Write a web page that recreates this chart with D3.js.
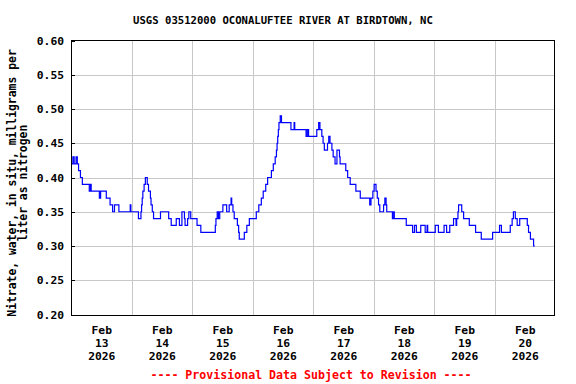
<!DOCTYPE html>
<html>
<head>
<meta charset="utf-8">
<script src="https://cdn.jsdelivr.net/npm/d3@7"></script>
<style>
  html, body { margin: 0; padding: 0; background: #fff; }
  svg { display: block; }
  text { font-family: "DejaVu Sans Mono", "Liberation Mono", monospace; font-weight: bold; }
</style>
</head>
<body>
<svg id="chart" width="576" height="384"></svg>
<script>
// ---- Data (hours since 2026-02-13 00:00, change points of the 15-min record) ----
const hours = [0, 0.75, 1.25, 2, 2.5, 3, 3.75, 4.5, 7.25, 7.75, 8, 11.25, 11.75, 14, 15.5, 16.5, 17.25, 19,
  23.5, 23.75, 26.75, 27.75, 28, 28.25, 28.5, 29, 29.5, 30.25, 30.75, 31.5, 31.75, 32.25, 32.75, 35.5, 38.75,
  39.75, 41.75, 43, 44, 45, 45.25, 46.25, 46.75, 47.5, 50, 51.5, 57.25, 57.5, 58, 58.5, 59, 60.25, 61.75,
  62.75, 63.5, 63.75, 64.25, 64.75, 66, 66.5, 66.75, 68.75, 69.75, 70.75, 73.5, 74.5, 75.5, 76.25, 77.25, 78,
  79.5, 80.25, 81, 81.5, 81.75, 82, 82.25, 82.5, 83, 83.5, 87.25, 88.5, 88.75, 93.25, 93.75, 94.25, 97.5,
  98.25, 98.75, 99.5, 100, 100.5, 101.75, 102.25, 102.75, 103.5, 104, 104.75, 105.5, 106.5, 106.75, 109,
  109.75, 110.75, 113, 114.75, 118.5, 119, 119.75, 120.25, 121, 121.5, 122, 122.5, 124, 124.5, 125, 125.25,
  127.5, 128, 128.25, 133, 135.5, 136.25, 137, 138.75, 140.5, 141.25, 141.5, 144.5, 145.75, 148, 149, 150.25,
  151.75, 152.75, 153, 153.5, 153.75, 155, 155.75, 158, 160.5, 162.75, 167.25, 170, 170.75, 174.25, 175,
  175.5, 176.25, 177, 178, 181, 181.5, 182.25, 183.5, 184];
const nitrate = [0.42, 0.43, 0.42, 0.43, 0.42, 0.41, 0.40, 0.39, 0.38, 0.39, 0.38, 0.37, 0.38, 0.37, 0.36, 0.35, 0.36, 0.35,
  0.36, 0.35, 0.34, 0.35, 0.36, 0.37, 0.38, 0.39, 0.40, 0.39, 0.38, 0.37, 0.36, 0.35, 0.34, 0.35, 0.34,
  0.33, 0.34, 0.33, 0.35, 0.34, 0.33, 0.34, 0.35, 0.34, 0.33, 0.32, 0.33, 0.34, 0.35, 0.34, 0.35, 0.36, 0.35,
  0.36, 0.37, 0.36, 0.35, 0.34, 0.33, 0.32, 0.31, 0.32, 0.33, 0.34, 0.35, 0.36, 0.37, 0.38, 0.39, 0.40,
  0.41, 0.42, 0.43, 0.44, 0.45, 0.46, 0.47, 0.48, 0.49, 0.48, 0.47, 0.48, 0.47, 0.46, 0.47, 0.46, 0.47,
  0.48, 0.47, 0.46, 0.45, 0.44, 0.45, 0.46, 0.45, 0.44, 0.43, 0.42, 0.44, 0.43, 0.42, 0.41,
  0.40, 0.39, 0.38, 0.37, 0.36, 0.37, 0.38, 0.39, 0.38, 0.37, 0.36, 0.35, 0.36, 0.37, 0.36, 0.35,
  0.34, 0.35, 0.34, 0.33, 0.32, 0.33, 0.32, 0.33, 0.32, 0.33, 0.32, 0.33, 0.32, 0.33, 0.32, 0.33,
  0.34, 0.33, 0.34, 0.35, 0.36, 0.35, 0.34, 0.33, 0.32, 0.31, 0.32, 0.33, 0.32, 0.33, 0.34,
  0.35, 0.34, 0.33, 0.34, 0.33, 0.32, 0.31, 0.30, 0.30];
const dayLabels = ["13", "14", "15", "16", "17", "18", "19", "20"];
const yTicks = [0.20, 0.25, 0.30, 0.35, 0.40, 0.45, 0.50, 0.55, 0.60];
const titleText = "USGS 03512000 OCONALUFTEE RIVER AT BIRDTOWN, NC";
const yLabelLines = ["Nitrate, water, in situ, milligrams per", "liter as nitrogen"];
const footerText = "---- Provisional Data Subject to Revision ----";

// ---- Chart ----
(function () {
const svg = d3.select("#chart");
const start = Date.UTC(2026, 1, 13);
const HOUR = 3600 * 1000;
const x = d3.scaleUtc().domain([new Date(start), new Date(start + 192 * HOUR)]).range([71, 555]);
const y = d3.scaleLinear().domain([0.20, 0.60]).range([314.5, 40.5]);
const pTop = 40, pBottom = 315, pLeft = 71.5, pRight = 554.5;

const midnights = d3.range(1, 8).map(d => new Date(start + d * 24 * HOUR));
const noons = dayLabels.map((d, i) => new Date(start + (i * 24 + 12) * HOUR));

// grid lines
svg.append("g").attr("transform", `translate(0,${pBottom})`)
  .call(d3.axisBottom(x).tickValues(midnights).tickSize(-(pBottom - pTop)).tickFormat(""))
  .call(g => g.select(".domain").remove())
  .call(g => g.selectAll(".tick line").attr("stroke", "#c8c8c8").attr("shape-rendering", "crispEdges"));
svg.append("g").attr("transform", `translate(${pLeft},0)`)
  .call(d3.axisLeft(y).tickValues(yTicks.slice(1, -1)).tickSize(-(pRight - pLeft)).tickFormat(""))
  .call(g => g.select(".domain").remove())
  .call(g => g.selectAll(".tick line").attr("stroke", "#c8c8c8").attr("shape-rendering", "crispEdges"));

// data line
const data = hours.map((h, i) => ({ t: new Date(start + h * HOUR), v: nitrate[i] }));
svg.append("path").datum(data)
  .attr("fill", "none").attr("stroke", "#0000ff").attr("stroke-width", 1.2)
  .attr("d", d3.line().x(d => x(d.t)).y(d => y(d.v)).curve(d3.curveStepAfter));

// frame
svg.append("rect").attr("x", pLeft).attr("y", pTop + 0.5).attr("width", pRight - pLeft).attr("height", pBottom - pTop - 0.5)
  .attr("fill", "none").attr("stroke", "#000").attr("stroke-width", 1).attr("shape-rendering", "crispEdges");

// y axis ticks + labels
svg.append("g").attr("transform", `translate(${pLeft},0)`)
  .call(d3.axisLeft(y).tickValues(yTicks).tickSize(-3).tickPadding(7.5).tickFormat(d3.format(".2f")))
  .call(g => g.select(".domain").remove())
  .call(g => g.selectAll(".tick line").attr("stroke", "#000").attr("shape-rendering", "crispEdges"))
  .call(g => g.selectAll(".tick text").attr("font-family", "DejaVu Sans Mono").attr("font-weight", "bold")
    .attr("font-size", "11.3px").attr("fill", "#000"));

// x axis labels
const xa = svg.append("g").attr("transform", `translate(0,${pBottom})`)
  .call(d3.axisBottom(x).tickValues(noons).tickSize(0).tickPadding(0).tickFormat(""));
xa.select(".domain").remove();
xa.selectAll(".tick").each(function(d, i) {
  const t = d3.select(this).append("text").attr("fill", "#000").attr("font-size", "11.3px")
    .attr("font-family", "DejaVu Sans Mono").attr("font-weight", "bold").attr("text-anchor", "middle");
  ["Feb", dayLabels[i], "2026"].forEach((s, k) => t.append("tspan").attr("x", 0).attr("y", 19 + k * 13).text(s));
});

// title
svg.append("text").attr("x", 283).attr("y", 24).attr("text-anchor", "middle")
  .attr("font-size", "10.6px").attr("fill", "#000").text(titleText);

// y label
const yl = svg.append("text").attr("transform", "translate(0,183) rotate(-90)").attr("text-anchor", "middle")
  .attr("font-size", "11.4px").attr("fill", "#000");
yLabelLines.forEach((s, k) => yl.append("tspan").attr("x", 0).attr("y", 16 + k * 11).text(s));

// footer
svg.append("text").attr("x", 311).attr("y", 379).attr("text-anchor", "middle")
  .attr("font-size", "11.6px").attr("fill", "#ff0000").text(footerText);
})();
</script>
</body>
</html>
